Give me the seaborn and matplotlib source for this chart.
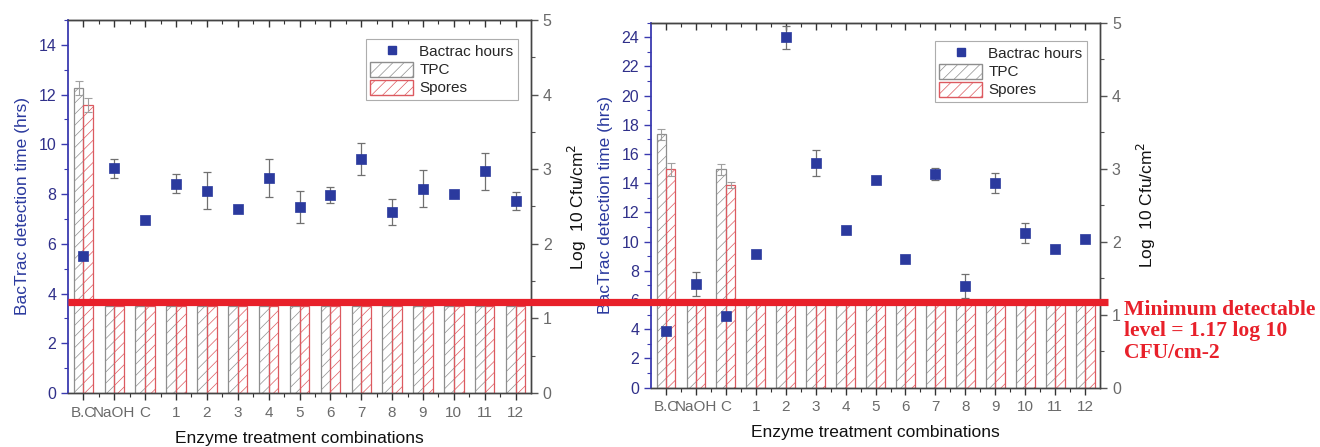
import numpy as np
import pandas as pd
import matplotlib
matplotlib.use("Agg")
import matplotlib.pyplot as plt
from matplotlib.lines import Line2D
from matplotlib.patches import Patch
from matplotlib.ticker import MultipleLocator, FixedLocator
import seaborn as sns

# ---- data -------------------------------------------------------------
categories = ["B.C", "NaOH", "C", "1", "2", "3", "4", "5", "6", "7", "8",
              "9", "10", "11", "12"]

# Panel 1
hours_a = [5.52, 9.04, 6.96, 8.41, 8.14, 7.39, 8.64, 7.47, 7.96, 9.41, 7.28,
           8.22, 8.02, 8.92, 7.72]
hours_err_a = [0.0, 0.38, 0.0, 0.38, 0.74, 0.0, 0.75, 0.64, 0.33, 0.64, 0.53,
               0.74, 0.0, 0.75, 0.35]
tpc_a = [4.09] + [1.17] * 14
tpc_err_a = [0.09] + [0.0] * 14
spores_a = [3.86] + [1.17] * 14
spores_err_a = [0.09] + [0.0] * 14

# Panel 2
hours_b = [3.90, 7.11, 4.92, 9.14, 23.99, 15.36, 10.83, 14.24, 8.82, 14.63,
           6.95, 14.01, 10.62, 9.48, 10.16]
hours_err_b = [0.15, 0.82, 0.2, 0.2, 0.8, 0.89, 0.0, 0.0, 0.0, 0.4, 0.83,
               0.66, 0.68, 0.0, 0.2]
tpc_b = [3.47, 1.17, 2.99] + [1.17] * 12
tpc_err_b = [0.08, 0.0, 0.08] + [0.0] * 12
spores_b = [2.99, 1.17, 2.78] + [1.17] * 12
spores_err_b = [0.09, 0.0, 0.04] + [0.0] * 12

min_level = 1.17
series_names = ["TPC", "Spores"]

# ---- style ------------------------------------------------------------
sns.set_style("ticks")
plt.rcParams["font.family"] = ["Liberation Sans", "DejaVu Sans"]
plt.rcParams["hatch.linewidth"] = 0.5

blue = "#2b3a9e"
axis_blue = "#3a3ab0"
gray_txt = "#6a6a6a"
tpc_col = "#8e8e8e"
spo_col = "#dc5a60"
red = "#e8202a"

fig = plt.figure(figsize=(13.2, 4.47), dpi=100)


def draw_panel(rect, hours, hours_err, tpc, tpc_err, spores, spores_err,
               ymax, ymajor, yminor, legend_anchor, xlabelpad):
    ax = fig.add_axes(rect)
    axb = ax.twinx()
    ax.set_zorder(axb.get_zorder() + 1)
    ax.patch.set_visible(False)

    # bars: log counts on the right-hand axis
    df = pd.DataFrame({
        "cat": categories * 2,
        "val": list(tpc) + list(spores),
        "series": ["TPC"] * len(categories) + ["Spores"] * len(categories),
    })
    sns.barplot(data=df, x="cat", y="val", hue="series", order=categories,
                hue_order=series_names, palette=[tpc_col, spo_col],
                fill=False, width=0.63, errorbar=None, legend=False,
                linewidth=0.9, ax=axb)
    for cont, errs in zip(axb.containers, [tpc_err, spores_err]):
        for bar in cont:
            bar.set_hatch("///")
        xs = np.array([b.get_x() + b.get_width() / 2 for b in cont])
        hs = np.array([b.get_height() for b in cont])
        errs = np.asarray(errs)
        m = errs > 0
        axb.errorbar(xs[m], hs[m], yerr=errs[m], fmt="none",
                     ecolor="#a0a0a0", elinewidth=0.8, capsize=3,
                     capthick=0.8)

    # points: BacTrac detection time on the left-hand axis
    xpos = np.arange(len(categories))
    herr = np.asarray(hours_err)
    m = herr > 0
    ax.errorbar(xpos[m], np.asarray(hours)[m], yerr=herr[m], fmt="none",
                ecolor="#707070", elinewidth=0.9, capsize=3, capthick=0.9,
                zorder=2)
    sns.scatterplot(x=xpos, y=hours, marker="s", s=44, color=blue,
                    edgecolor=blue, linewidth=0.5, ax=ax, zorder=3)

    # axes ranges and ticks
    ax.set_xlim(-0.5, len(categories) - 0.5)
    ax.set_ylim(0, ymax)
    axb.set_ylim(0, 5)
    ax.xaxis.set_major_locator(FixedLocator(xpos))
    ax.set_xticklabels(categories)
    ax.xaxis.set_minor_locator(FixedLocator(xpos[:-1] + 0.5))
    ax.yaxis.set_major_locator(MultipleLocator(ymajor))
    ax.yaxis.set_minor_locator(MultipleLocator(yminor))
    axb.yaxis.set_major_locator(MultipleLocator(1))
    axb.yaxis.set_minor_locator(MultipleLocator(0.5))

    ax.tick_params(axis="x", which="major", length=5, width=1.0,
                   colors="#333333", labelcolor=gray_txt, labelsize=11,
                   direction="out", pad=4)
    ax.tick_params(axis="x", which="minor", length=3, width=0.8,
                   colors="#333333", direction="out")
    ax.tick_params(axis="y", which="major", length=5, width=1.0,
                   colors=axis_blue, labelcolor="#30308a", labelsize=11.5)
    ax.tick_params(axis="y", which="minor", length=3, width=0.8,
                   colors=axis_blue)
    axb.tick_params(axis="y", which="major", length=5, width=1.0,
                    colors="#555555", labelcolor=gray_txt, labelsize=11.5)
    axb.tick_params(axis="y", which="minor", length=3, width=0.8,
                    colors="#555555")

    # mirrored ticks along the top edge
    top = ax.secondary_xaxis("top")
    top.xaxis.set_major_locator(FixedLocator(xpos))
    top.xaxis.set_minor_locator(FixedLocator(xpos[:-1] + 0.5))
    top.tick_params(axis="x", which="major", direction="in", length=5,
                    width=1.0, colors="#333333", labeltop=False)
    top.tick_params(axis="x", which="minor", direction="in", length=3,
                    width=0.8, colors="#333333")
    top.spines["top"].set_color("#333333")

    for a in (ax, axb):
        for s in a.spines.values():
            s.set_visible(True)
            s.set_linewidth(1.0)
            s.set_color("#444444")
    ax.spines["left"].set_color(axis_blue)
    ax.spines["left"].set_linewidth(1.3)
    axb.spines["left"].set_visible(False)

    ax.set_xlabel("Enzyme treatment combinations", fontsize=12.5,
                  color="#111111", labelpad=xlabelpad)
    ax.set_ylabel("BacTrac detection time (hrs)", fontsize=12.5, color=blue,
                  labelpad=6)
    axb.set_ylabel("Log  10 Cfu/cm$^{2}$", fontsize=12.5, color="#111111",
                   labelpad=10)
    axb.set_xlabel("")

    handles = [
        Line2D([], [], marker="s", linestyle="none", color=blue,
               markersize=6, label="Bactrac hours"),
        Patch(facecolor="none", edgecolor=tpc_col, hatch="///",
              label="TPC"),
        Patch(facecolor="none", edgecolor=spo_col, hatch="///",
              label="Spores"),
    ]
    leg = ax.legend(handles=handles, loc="upper right",
                    bbox_to_anchor=legend_anchor, borderaxespad=0,
                    fontsize=11, frameon=True, fancybox=False,
                    edgecolor="#999999", handlelength=2.8,
                    handleheight=1.15, borderpad=0.3, labelspacing=0.15,
                    handletextpad=0.4)
    leg.get_frame().set_linewidth(0.8)
    return ax, axb


ax1, ax1b = draw_panel([0.0515, 0.1208, 0.3508, 0.8345], hours_a,
                       hours_err_a, tpc_a, tpc_err_a, spores_a, spores_err_a,
                       15, 2, 1, (0.972, 0.949), 8)
ax2, ax2b = draw_panel([0.4932, 0.1327, 0.3402, 0.8166], hours_b,
                       hours_err_b, tpc_b, tpc_err_b, spores_b, spores_err_b,
                       25, 2, 1, (0.971, 0.950), 8)

# detection limit line across both panels
fig.canvas.draw()
to_fig = fig.transFigure.inverted()
y_line = to_fig.transform(ax2b.transData.transform((0, min_level)))[1]
x_start = ax1.get_position().x0
x_end = ax2.get_position().x1 + 8 / 1320
fig.add_artist(Line2D([x_start, x_end], [y_line, y_line], color=red,
                      linewidth=5.2, solid_capstyle="butt", zorder=10,
                      transform=fig.transFigure))
fig.text(0.8515, y_line + 0.006,
         "Minimum detectable\nlevel = 1.17 log 10\nCFU/cm-2",
         color=red, fontsize=15.6, fontweight="bold",
         family=["Liberation Serif", "DejaVu Serif"], va="top", ha="left",
         linespacing=1.12)

fig.savefig("out.png", dpi=100)
